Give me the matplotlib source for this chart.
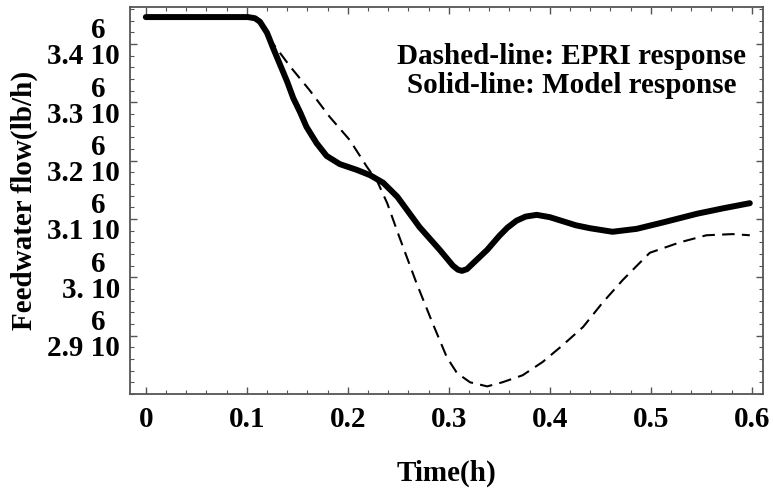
import numpy as np
import matplotlib
matplotlib.use("Agg")
import matplotlib.pyplot as plt
from matplotlib.ticker import MultipleLocator

plt.rcParams['font.family'] = ['Liberation Serif', 'DejaVu Serif']
plt.rcParams['font.weight'] = 'bold'

# Model response (solid), time in h, flow in 1e6 lb/h
t_model = [0.0, 0.101, 0.108, 0.113, 0.120, 0.126, 0.133, 0.140, 0.146, 0.153,
           0.159, 0.169, 0.179, 0.192, 0.209, 0.222, 0.235, 0.249, 0.271, 0.291,
           0.304, 0.309, 0.313, 0.318, 0.324, 0.338, 0.350, 0.358, 0.367, 0.376,
           0.387, 0.400, 0.413, 0.426, 0.440, 0.462, 0.486, 0.512, 0.546, 0.571,
           0.598]
f_model = [3.446, 3.446, 3.444, 3.438, 3.419, 3.393, 3.364, 3.335, 3.307, 3.282,
           3.258, 3.230, 3.208, 3.194, 3.184, 3.175, 3.162, 3.138, 3.086, 3.047,
           3.020, 3.013, 3.011, 3.014, 3.024, 3.047, 3.071, 3.085, 3.097, 3.104,
           3.107, 3.103, 3.096, 3.089, 3.084, 3.078, 3.083, 3.094, 3.109, 3.118,
           3.127]

# EPRI response (dashed)
t_epri = [0.121, 0.143, 0.162, 0.182, 0.202, 0.219, 0.229, 0.239, 0.251, 0.268,
          0.284, 0.298, 0.308, 0.321, 0.338, 0.353, 0.373, 0.393, 0.413, 0.433,
          0.452, 0.472, 0.492, 0.499, 0.529, 0.555, 0.581, 0.598]
f_epri = [3.412, 3.361, 3.321, 3.275, 3.235, 3.189, 3.165, 3.127, 3.069, 2.990,
          2.921, 2.863, 2.836, 2.820, 2.813, 2.820, 2.832, 2.855, 2.884, 2.915,
          2.956, 2.995, 3.030, 3.042, 3.060, 3.072, 3.074, 3.072]

y_ticks = [2.9, 3.0, 3.1, 3.2, 3.3, 3.4]
y_labels = ['2.9', '3.', '3.1', '3.2', '3.3', '3.4']
x_ticks = [0, 0.1, 0.2, 0.3, 0.4, 0.5, 0.6]
x_labels = ['0', '0.1', '0.2', '0.3', '0.4', '0.5', '0.6']

fs = 21
fig = plt.figure(figsize=(7.73, 4.90), dpi=100)
ax = fig.add_axes([0.168, 0.196, 0.819, 0.790])

ax.plot(np.array(t_model), np.array(f_model) * 1e6, color='black', lw=4.3,
        solid_capstyle='round', solid_joinstyle='round')
ax.plot(np.array(t_epri), np.array(f_epri) * 1e6, color='black', lw=1.5,
        dashes=(6, 3.5))

ax.set_xlim(-0.0158, 0.611)
ax.set_ylim(2.80e6, 3.4635e6)

ax.set_xticks(x_ticks)
ax.set_xticklabels(x_labels, fontsize=fs, fontweight='bold')
ax.xaxis.set_minor_locator(MultipleLocator(0.02))
ax.set_yticks([v * 1e6 for v in y_ticks])
ax.set_yticklabels(['6  \n' + s + ' 10' for s in y_labels], fontsize=fs,
                   fontweight='bold', linespacing=0.95)
for lab in ax.get_yticklabels():
    lab.set_multialignment('right')
    lab.set_va('center')
ax.yaxis.set_minor_locator(MultipleLocator(0.02e6))

ax.tick_params(which='both', direction='in', top=True, right=True, color='#555555')
ax.tick_params(which='major', length=5, width=1)
ax.tick_params(which='minor', length=3, width=0.8)
ax.tick_params(axis='x', pad=9)
ax.tick_params(axis='y', pad=7)
for sp in ax.spines.values():
    sp.set_color('#555555')
    sp.set_linewidth(1.3)

ax.set_xlabel('Time(h)', fontsize=fs, fontweight='bold')
ax.xaxis.set_label_coords(0.5, -0.17)
ax.set_ylabel('Feedwater flow(lb/h)', fontsize=fs, fontweight='bold', labelpad=7)

ax.text(0.698, 0.835, 'Dashed-line: EPRI response\nSolid-line: Model response',
        transform=ax.transAxes, ha='center', va='center', fontsize=fs,
        fontweight='bold', linespacing=1.1)

fig.savefig('out.png', dpi=100)
